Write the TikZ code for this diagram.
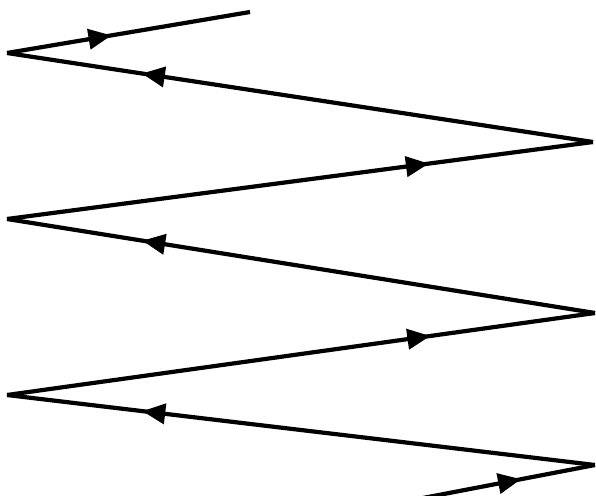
\documentclass[tikz,border=0pt]{standalone}
\usetikzlibrary{arrows.meta,decorations.markings}
\tikzset{
  ray/.style={line width=4.2pt, line cap=butt,
    postaction={decorate},
    decoration={markings, mark=at position #1 with {\arrow{Triangle[length=23pt,width=20pt]}}}}
}
\begin{document}
\begin{tikzpicture}[x=1pt,y=-1pt]
\useasboundingbox (0,0) rectangle (596,495);
\fill[white] (0,0) rectangle (596,495);
\clip (0,0) rectangle (596,495);
\coordinate (s) at (423,498);
\coordinate (r3) at (595,465);
\coordinate (l3) at (7,395);
\coordinate (r2) at (595,313);
\coordinate (l2) at (7,219);
\coordinate (r1) at (593,142);
\coordinate (l1) at (7,53);
\coordinate (e) at (250,12);
\draw[ray=0.57] (s) -- (r3);
\draw[ray=0.77] (r3) -- (l3);
\draw[ray=0.72] (l3) -- (r2);
\draw[ray=0.77] (r2) -- (l2);
\draw[ray=0.72] (l2) -- (r1);
\draw[ray=0.77] (r1) -- (l1);
\draw[ray=0.43] (l1) -- (e);
\end{tikzpicture}
\end{document}
